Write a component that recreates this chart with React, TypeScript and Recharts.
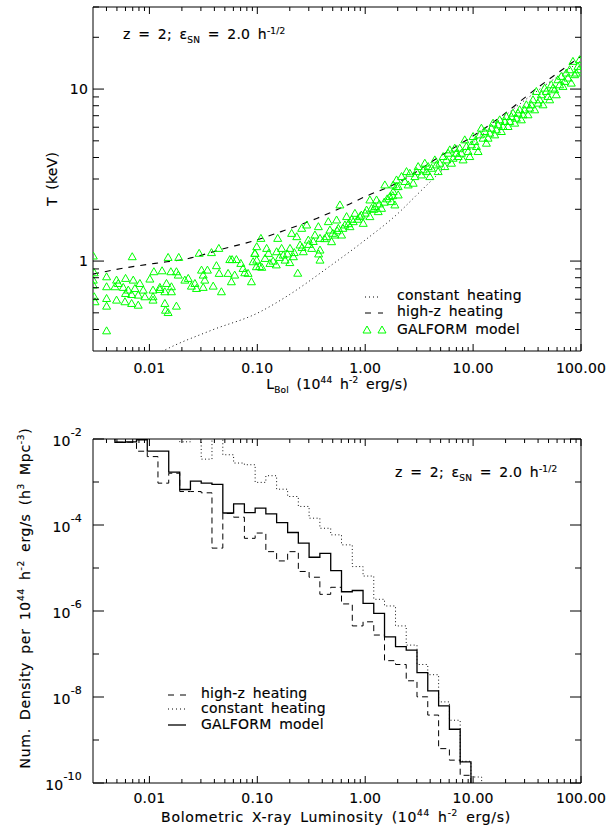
import React from 'react';
import {
  ComposedChart, Line, Scatter, XAxis, YAxis, ReferenceArea, Legend, Customized,
} from 'recharts';

// ---------- top panel: T vs L_bol ----------
// GALFORM clusters, [L_bol (1e44 h^-2 erg/s), T (keV)]
const galformPoints: [number, number][] = [
  [0.00302, 1.07], [0.00693, 1.06], [0.0149, 1.05], [0.0187, 1.05], [0.0289, 1.11], [0.0376, 1.12], [0.044, 1.185],
  [0.00308, 0.855], [0.00401, 0.81], [0.00496, 0.775], [0.00514, 0.741], [0.00601, 0.793], [0.00708, 0.775],
  [0.00816, 0.741], [0.0101, 0.786], [0.011, 0.867], [0.0131, 0.878], [0.0158, 0.867], [0.0178, 0.867],
  [0.0185, 0.829], [0.0213, 0.775], [0.0229, 0.793], [0.0264, 0.741], [0.0304, 0.886], [0.0315, 0.829],
  [0.0345, 0.886], [0.0326, 0.775], [0.0418, 0.94], [0.0443, 0.848], [0.0536, 0.848], [0.0556, 1.02],
  [0.0584, 1.02], [0.064, 1.02], [0.0703, 0.969], [0.0738, 0.906], [0.0765, 0.855], [0.0821, 0.848],
  [0.0914, 0.991], [0.0947, 1.11], [0.098, 0.927], [0.0882, 0.758], [0.0617, 0.829], [0.0575, 0.758],
  [0.00401, 0.709], [0.00479, 0.709], [0.00572, 0.703], [0.00637, 0.678], [0.00734, 0.693], [0.00876, 0.678],
  [0.0108, 0.678], [0.0125, 0.703], [0.0144, 0.741], [0.016, 0.709], [0.0245, 0.715], [0.0273, 0.693],
  [0.0315, 0.703], [0.039, 0.715], [0.0465, 0.663],
  [0.00601, 0.648], [0.00684, 0.639], [0.00787, 0.634], [0.00908, 0.62], [0.0108, 0.62], [0.0125, 0.684],
  [0.0139, 0.663], [0.016, 0.663],
  [0.00308, 0.62], [0.00313, 0.58], [0.00401, 0.606], [0.00496, 0.593], [0.00593, 0.58], [0.00684, 0.567],
  [0.00787, 0.554], [0.0108, 0.593], [0.0139, 0.567], [0.0178, 0.547], [0.00401, 0.547], [0.0141, 0.518],
  [0.0149, 0.502], [0.00401, 0.393], [0.00302, 0.775], [0.00302, 0.725],
  [0.108, 1.355], [0.1545, 1.355], [0.0988, 1.212], [0.0953, 1.108], [0.0988, 1.013], [0.122, 1.185],
  [0.127, 1.108], [0.118, 1.036], [0.131, 0.969], [0.151, 1.133], [0.168, 1.185], [0.174, 1.084],
  [0.181, 1.013], [0.201, 1.185], [0.208, 1.449], [0.216, 1.06], [0.232, 1.386], [0.249, 1.24],
  [0.258, 1.55], [0.267, 1.133], [0.287, 1.621], [0.297, 1.325], [0.319, 1.185], [0.342, 1.417],
  [0.368, 1.585], [0.381, 1.355], [0.381, 1.159], [0.381, 1.013], [0.439, 1.386], [0.455, 1.695],
  [0.471, 1.515], [0.488, 1.296], [0.524, 1.417], [0.543, 1.733], [0.563, 1.55], [0.583, 2.12],
  [0.604, 1.417], [0.649, 1.621], [0.672, 1.813], [0.722, 1.585], [0.775, 1.695], [0.803, 1.895],
  [0.893, 1.813], [0.959, 1.657], [1.03, 1.98], [1.105, 2.266], [1.105, 1.813], [1.145, 2.026],
  [1.23, 2.072], [1.274, 2.266], [1.32, 1.938], [1.417, 2.026], [1.521, 2.771], [1.693, 2.37],
  [1.754, 2.216], [1.817, 2.534], [1.883, 2.12], [2.022, 2.423], [1.951, 2.71],
  [0.237, 0.85], [0.11, 0.92], [0.2, 0.98], [0.15, 0.95], [0.37, 1.1],
  [0.105, 0.93], [0.14, 1.0], [0.16, 1.05], [0.19, 1.1], [0.22, 1.12], [0.26, 1.2], [0.3, 1.25],
  [0.33, 1.3], [0.42, 1.35], [0.5, 1.45], [0.55, 1.5], [0.62, 1.55], [0.7, 1.65], [0.75, 1.75],
  [0.85, 1.75], [0.92, 1.85], [1.0, 1.9], [1.2, 2.0], [1.35, 2.15], [1.5, 2.2], [1.6, 2.3], [1.8, 2.4],
  [1.818, 2.77], [2.171, 3.1], [2.33, 2.9], [2.592, 3.24], [2.784, 2.835], [3.096, 3.543], [3.324, 3.168],
  [3.568, 3.706], [3.698, 3.313], [4.114, 3.465], [4.417, 3.874], [4.913, 3.706], [5.275, 4.052],
  [5.466, 3.543], [6.08, 4.432], [6.528, 3.962], [7.009, 4.236], [7.521, 4.531], [8.076, 3.874],
  [8.368, 5.066], [8.986, 4.333], [9.648, 4.739], [9.995, 5.298], [10.73, 4.634], [11.94, 5.924],
  [12.37, 5.181], [13.28, 4.845], [14.26, 5.541], [15.31, 6.338], [16.44, 5.794], [17.64, 6.625],
  [18.95, 6.058], [20.34, 6.927], [21.84, 6.479], [23.44, 7.245], [25.17, 6.774], [27.02, 7.575],
  [29.01, 7.086], [31.14, 8.1], [33.44, 7.745], [35.9, 8.66], [38.55, 9.687], [39.94, 8.284],
  [42.88, 9.265], [46.03, 10.13], [49.43, 9.06], [53.07, 10.59], [56.98, 9.906], [61.17, 11.33],
  [65.68, 11.85], [70.5, 11.08], [73.05, 12.39], [78.44, 12.95], [84.2, 14.49], [87.27, 12.12],
  [93.67, 13.55], [97.07, 14.82],
  [1.951, 2.963], [2.022, 2.71], [2.415, 3.313], [2.502, 2.771], [2.884, 3.098], [2.988, 3.313],
  [3.444, 3.388], [3.832, 3.543], [3.971, 3.098], [4.576, 3.624], [4.742, 3.313], [5.662, 3.874],
  [5.867, 4.236], [6.3, 3.706], [6.763, 4.531], [7.261, 4.052], [7.796, 4.236], [8.672, 4.634],
  [9.311, 4.052], [10.36, 4.955], [11.12, 4.333], [11.52, 5.418], [12.82, 5.666], [13.76, 5.181],
  [14.77, 5.924], [15.86, 5.418], [17.03, 6.196], [18.29, 5.666], [19.63, 6.479], [21.08, 6.058],
  [22.62, 6.927], [24.29, 6.338], [26.08, 7.245], [28.0, 6.625], [30.06, 7.575], [32.28, 7.086],
  [34.65, 8.1], [37.2, 7.575], [41.4, 8.66], [44.43, 8.1], [47.7, 9.687], [51.22, 8.66], [55.0, 10.13],
  [59.04, 9.265], [63.39, 10.59], [68.06, 10.36], [75.7, 11.59], [81.28, 10.83], [90.42, 12.39],
  [95.7, 12.95],
];

const highZCurve: [number, number][] = [
  [0.003, 0.84], [0.0055, 0.905], [0.0113, 0.97], [0.023, 1.035], [0.0465, 1.17], [0.1, 1.33],
  [0.175, 1.5], [0.355, 1.77], [0.72, 2.15], [1.0, 2.37], [1.95, 2.83], [4.9, 4.05], [14.3, 6.2],
  [41.4, 10.4], [100, 15.5],
];

const constantCurve: [number, number][] = [
  [0.009, 0.26], [0.0134, 0.3], [0.0376, 0.396], [0.1016, 0.5], [0.2, 0.64], [0.44, 0.906],
  [0.96, 1.3], [2.1, 1.94], [2.86, 2.35], [5.5, 3.5], [10, 4.9], [30, 8.6], [100, 14.6],
];

// ---------- bottom panel: luminosity functions ----------
// left edges of the 0.1 dex bins (last entry closes the final bin)
const binEdges = [
  0.00302, 0.0038, 0.00479, 0.00603, 0.00759, 0.00955, 0.012, 0.0151, 0.0191, 0.024, 0.0302, 0.038,
  0.0479, 0.0603, 0.0759, 0.0955, 0.12, 0.151, 0.191, 0.24, 0.302, 0.38, 0.479, 0.603, 0.759, 0.955,
  1.2, 1.51, 1.91, 2.4, 3.02, 3.8, 4.79, 6.03, 7.59, 9.55, 12.0, 15.1,
];
const galformDensity = [
  0.02, 0.014, 8.4e-3, 8.6e-3, 9.6e-3, 5.2e-3, 5.2e-3, 1.7e-3, 6.7e-4, 1.05e-3, 9.4e-4, 8.8e-4,
  1.9e-4, 3.1e-4, 1.95e-4, 2.47e-4, 1.82e-4, 1.14e-4, 6.7e-5, 3.8e-5, 1.78e-5, 2.2e-5, 8.7e-6, 2.8e-6,
  3.0e-6, 1.5e-6, 8.8e-7, 2.5e-7, 1.48e-7, 1.23e-7, 3.7e-8, 1.39e-8, 6.2e-9, 1.78e-9, 3.1e-10,
  1e-12, 1e-12, 1e-12,
];
const highZDensity = [
  0.02, 0.014, 8.4e-3, 8.4e-3, 5.2e-3, 3.9e-3, 9.4e-4, 1.6e-3, 6.0e-4, 6.0e-4, 5.6e-4, 2.9e-5,
  1.85e-4, 1.52e-4, 4.9e-5, 6.5e-5, 2.4e-5, 1.46e-5, 2.4e-5, 8.3e-6, 6.1e-6, 2.44e-6, 3.56e-6, 1.46e-6,
  4.5e-7, 5.6e-7, 2.76e-7, 7.0e-8, 5.7e-8, 2.38e-8, 1.01e-8, 3.8e-9, 6.3e-10, 3.4e-10, 1.51e-10,
  1e-12, 1e-12, 1e-12,
];
const constantDensity = [
  0.02, 0.02, 0.02, 0.02, 0.02, 0.02, 0.02, 0.02, 8.6e-3, 0.011, 3.4e-3, 0.012,
  4.3e-3, 2.76e-3, 2.52e-3, 9.8e-4, 1.4e-3, 6.8e-4, 4.6e-4, 2.7e-4, 1.44e-4, 8.4e-5, 5.9e-5, 3.45e-5,
  1.08e-5, 6.5e-6, 1.87e-6, 1.31e-6, 4.5e-7, 1.61e-7, 5.7e-8, 3.3e-8, 7.7e-9, 2.88e-9, 3.2e-10,
  1.38e-10, 1e-12, 1e-12,
];

// ---------- ticks ----------
const lumTicks = [
  0.004, 0.005, 0.006, 0.007, 0.008, 0.009, 0.01, 0.02, 0.03, 0.04, 0.05, 0.06, 0.07, 0.08, 0.09,
  0.1, 0.2, 0.3, 0.4, 0.5, 0.6, 0.7, 0.8, 0.9, 1, 2, 3, 4, 5, 6, 7, 8, 9, 10, 20, 30, 40, 50, 60,
  70, 80, 90, 100,
];
const lumLabels = new Map<number, string>([[0.01, '0.01'], [0.1, '0.10'], [1, '1.00'], [10, '10.00'], [100, '100.00']]);
const tempTicks = [0.4, 0.5, 0.6, 0.7, 0.8, 0.9, 1, 2, 3, 4, 5, 6, 7, 8, 9, 10, 20, 30];
const tempLabels = new Map<number, string>([[1, '1'], [10, '10']]);
const densityTicks = [1e-10, 1e-9, 1e-8, 1e-7, 1e-6, 1e-5, 1e-4, 1e-3, 1e-2];
const densityLabels = new Map<number, string>([[1e-2, '-2'], [1e-4, '-4'], [1e-6, '-6'], [1e-8, '-8'], [1e-10, '-10']]);

const galformData = galformPoints.map(([L, T]) => ({ L, T }));
const highZData = highZCurve.map(([L, T]) => ({ L, T }));
const constantData = constantCurve.map(([L, T]) => ({ L, T }));
const densityTable = binEdges.map((L, i) => ({
  L, galform: galformDensity[i], highZ: highZDensity[i], constant: constantDensity[i],
}));

// ---------- styling ----------
const GREEN = '#00ff00';
const textStyle: React.CSSProperties = {
  fontFamily: '"DejaVu Sans", sans-serif', fontSize: 14, letterSpacing: 0.2, wordSpacing: 3,
  fill: '#000', stroke: '#000', strokeWidth: 0.15,
};
const wideText: React.CSSProperties = { ...textStyle, letterSpacing: 0.7 };
const SUB = 9;

type Frame = { top: number; bottom: number; left: number; right: number };
const TOP_FRAME: Frame = { top: 7, bottom: 351, left: 93, right: 581 };
const BOT_FRAME: Frame = { top: 39, bottom: 383, left: 93, right: 581 };

// IDL-style ticks: inward on all four sides
const xTick = (frame: Frame, labelGap: number) => (props: any) => {
  const { x, payload } = props;
  const label = lumLabels.get(payload.value);
  const len = label ? 7 : 4;
  return (
    <g>
      <line x1={x} x2={x} y1={frame.bottom} y2={frame.bottom - len} stroke="#000" />
      <line x1={x} x2={x} y1={frame.top} y2={frame.top + len} stroke="#000" />
      {label && (
        <text x={x} y={frame.bottom + labelGap} textAnchor="middle" style={textStyle}>{label}</text>
      )}
    </g>
  );
};

const tempTick = (props: any) => {
  const { y, payload } = props;
  const label = tempLabels.get(payload.value);
  const len = label ? 11 : 6;
  const f = TOP_FRAME;
  return (
    <g>
      <line x1={f.left} x2={f.left + len} y1={y} y2={y} stroke="#000" />
      <line x1={f.right} x2={f.right - len} y1={y} y2={y} stroke="#000" />
      {label && <text x={f.left - 5} y={y + 5} textAnchor="end" style={textStyle}>{label}</text>}
    </g>
  );
};

const densityTick = (props: any) => {
  const { y, payload } = props;
  const exp = densityLabels.get(payload.value);
  const len = exp ? 11 : 6;
  const f = BOT_FRAME;
  return (
    <g>
      <line x1={f.left} x2={f.left + len} y1={y} y2={y} stroke="#000" />
      <line x1={f.right} x2={f.right - len} y1={y} y2={y} stroke="#000" />
      {exp && (
        <text x={f.left - 11} y={y + 7} textAnchor="end" style={textStyle}>
          10<tspan dy={-10} fontSize={11}>{exp}</tspan>
        </text>
      )}
    </g>
  );
};

const OpenTriangle = (props: any) => {
  const { cx, cy } = props;
  if (cx == null || cy == null) return <g />;
  return (
    <path d={`M${cx},${cy - 4}L${cx + 4},${cy + 3}L${cx - 4},${cy + 3}Z`}
      fill="none" stroke={GREEN} strokeWidth={1} />
  );
};

const ModelNote = ({ x, y }: { x: number; y: number }) => (
  <text x={x} y={y} style={textStyle}>
    z = 2; ε<tspan dy={4} fontSize={SUB}>SN</tspan>
    <tspan dy={-4}>{' = 2.0 h'}</tspan>
    <tspan dy={-5} fontSize={SUB}>-1/2</tspan>
  </text>
);

const TopNotes = () => (
  <g>
    <ModelNote x={123} y={39} />
    <text x={337} y={389} textAnchor="middle" style={textStyle}>
      L<tspan dy={4} fontSize={SUB}>Bol</tspan>
      <tspan dy={-4}>{' (10'}</tspan>
      <tspan dy={-6} fontSize={SUB}>44</tspan>
      <tspan dy={6}>{' h'}</tspan>
      <tspan dy={-6} fontSize={SUB}>-2</tspan>
      <tspan dy={6}>{' erg/s)'}</tspan>
    </text>
    <text transform="translate(57,179) rotate(-90)" textAnchor="middle" style={textStyle}>T (keV)</text>
  </g>
);

const BottomNotes = () => (
  <g>
    <ModelNote x={395} y={77} />
    <text x={336} y={422} textAnchor="middle" style={wideText}>
      {'Bolometric X-ray Luminosity (10'}
      <tspan dy={-6} fontSize={SUB}>44</tspan>
      <tspan dy={6}>{'  h'}</tspan>
      <tspan dy={-6} fontSize={SUB}>-2</tspan>
      <tspan dy={6}>{' erg/s)'}</tspan>
    </text>
    <text transform="translate(30,198) rotate(-90)" textAnchor="middle" style={wideText}>
      {'Num. Density per 10'}
      <tspan dy={-6} fontSize={SUB}>44</tspan>
      <tspan dy={6}>{' h'}</tspan>
      <tspan dy={-6} fontSize={SUB}>-2</tspan>
      <tspan dy={6}>{' erg/s (h'}</tspan>
      <tspan dy={-6} fontSize={SUB}>3</tspan>
      <tspan dy={6}>{' Mpc'}</tspan>
      <tspan dy={-6} fontSize={SUB}>-3</tspan>
      <tspan dy={6}>)</tspan>
    </text>
  </g>
);

const TopLegend = () => (
  <svg width={190} height={55}>
    <line x1={10} x2={25} y1={12} y2={12} stroke="#000" strokeDasharray="1 3" />
    <text x={42} y={15} style={textStyle}>constant heating</text>
    <line x1={10} x2={28} y1={28} y2={28} stroke="#000" strokeDasharray="6 7" />
    <text x={42} y={31} style={textStyle}>high-z heating</text>
    <OpenTriangle cx={12} cy={45} />
    <OpenTriangle cx={27} cy={45} />
    <text x={42} y={49} style={textStyle}>GALFORM model</text>
  </svg>
);

const BottomLegend = () => (
  <svg width={180} height={50}>
    <line x1={8} x2={26} y1={10} y2={10} stroke="#000" strokeDasharray="6 6" />
    <text x={41} y={13} style={textStyle}>high-z heating</text>
    <line x1={8} x2={26} y1={24} y2={24} stroke="#000" strokeDasharray="1 3" />
    <text x={41} y={28} style={textStyle}>constant heating</text>
    <line x1={8} x2={26} y1={40} y2={40} stroke="#000" strokeWidth={1.3} />
    <text x={41} y={44} style={textStyle}>GALFORM model</text>
  </svg>
);

// axes are 1px thick so Recharts still renders their ticks; margins absorb that pixel
const TopPanel = () => (
  <ComposedChart width={606} height={400} margin={{ top: 7, right: 25, bottom: 48, left: 92 }}>
    <XAxis dataKey="L" type="number" scale="log" domain={[0.003, 100]} allowDataOverflow
      ticks={lumTicks} interval={0} height={1} tickSize={0} tickMargin={0}
      axisLine={false} tickLine={false} tick={xTick(TOP_FRAME, 22)} />
    <YAxis dataKey="T" type="number" scale="log" domain={[0.3, 30]} allowDataOverflow
      ticks={tempTicks} interval={0} width={1} tickSize={0} tickMargin={0}
      axisLine={false} tickLine={false} tick={tempTick} />
    <ReferenceArea x1={0.003} x2={100} y1={0.3} y2={30} fill="none" stroke="#000" ifOverflow="visible" />
    <Scatter data={galformData} shape={OpenTriangle} isAnimationActive={false} />
    <Line data={constantData} dataKey="T" type="monotone" stroke="#111" strokeWidth={1}
      strokeDasharray="1 3" dot={false} activeDot={false} isAnimationActive={false} />
    <Line data={highZData} dataKey="T" type="monotone" stroke="#000" strokeWidth={1.1}
      strokeDasharray="6 6" dot={false} activeDot={false} isAnimationActive={false} />
    <Legend verticalAlign="middle" align="center" layout="vertical"
      wrapperStyle={{ left: 355, top: 285, width: 190, height: 55 }} content={() => <TopLegend />} />
    <Customized component={TopNotes} />
  </ComposedChart>
);

const BottomPanel = () => (
  <ComposedChart width={606} height={429} data={densityTable}
    margin={{ top: 39, right: 25, bottom: 45, left: 92 }}>
    <XAxis dataKey="L" type="number" scale="log" domain={[0.003, 100]} allowDataOverflow
      ticks={lumTicks} interval={0} height={1} tickSize={0} tickMargin={0}
      axisLine={false} tickLine={false} tick={xTick(BOT_FRAME, 20)} />
    <YAxis type="number" scale="log" domain={[1e-10, 1e-2]} allowDataOverflow
      ticks={densityTicks} interval={0} width={1} tickSize={0} tickMargin={0}
      axisLine={false} tickLine={false} tick={densityTick} />
    <ReferenceArea x1={0.003} x2={100} y1={1e-10} y2={1e-2} fill="none" stroke="#000" ifOverflow="visible" />
    <Line dataKey="constant" type="stepAfter" stroke="#111" strokeWidth={1}
      strokeDasharray="1 2.5" dot={false} activeDot={false} isAnimationActive={false} />
    <Line dataKey="highZ" type="stepAfter" stroke="#000" strokeWidth={1}
      strokeDasharray="6 4" dot={false} activeDot={false} isAnimationActive={false} />
    <Line dataKey="galform" type="stepAfter" stroke="#000" strokeWidth={1.3}
      dot={false} activeDot={false} isAnimationActive={false} />
    <Legend verticalAlign="middle" align="center" layout="vertical"
      wrapperStyle={{ left: 160, top: 285, width: 180, height: 50 }} content={() => <BottomLegend />} />
    <Customized component={BottomNotes} />
  </ComposedChart>
);

export default function App() {
  return (
    <div style={{ position: 'absolute', left: 0, top: 0, width: 606, height: 829, background: '#fff' }}>
      <div style={{ position: 'absolute', left: 0, top: 0 }}>
        <TopPanel />
      </div>
      <div style={{ position: 'absolute', left: 0, top: 400 }}>
        <BottomPanel />
      </div>
    </div>
  );
}
